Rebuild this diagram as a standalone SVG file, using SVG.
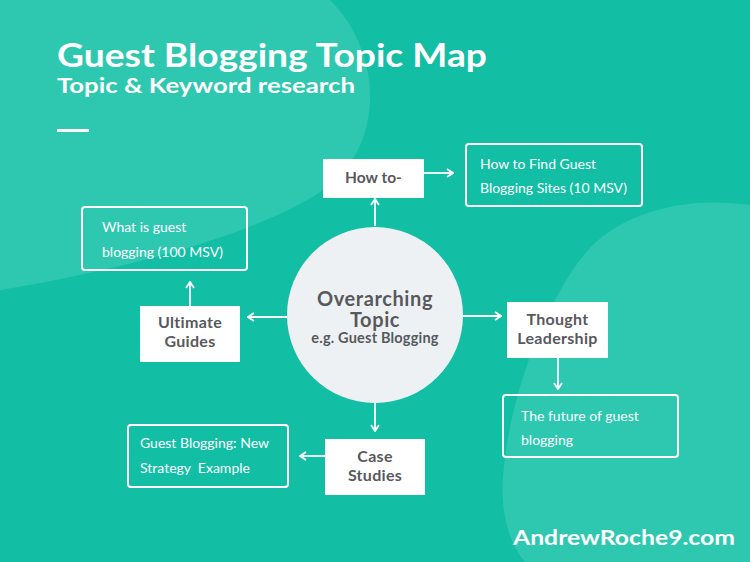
<svg xmlns="http://www.w3.org/2000/svg" width="750" height="562" viewBox="0 0 750 562">
<defs>
<style>
.bold{font-family:Lato,"Open Sans","Liberation Sans",sans-serif;font-weight:700;fill:#ffffff;}
.lbl{font-family:Lato,"Open Sans","Liberation Sans",sans-serif;font-weight:700;fill:#57595c;text-anchor:middle;}
.s16{font-size:16px;letter-spacing:0.3px;}
.s15{font-size:15.5px;}
.s20{font-size:20px;letter-spacing:0.6px;}
.s14{font-size:14.5px;letter-spacing:0.2px;}
.txt{font-family:Lato,"Open Sans","Liberation Sans",sans-serif;font-weight:400;font-size:14px;fill:#ffffff;}
.solid{fill:#ffffff;}
.outline{fill:none;stroke:#ffffff;stroke-width:2;}
.conn{stroke:#ffffff;stroke-width:1.8;fill:none;marker-end:url(#arr);}
</style>
<marker id="arr" viewBox="0 0 10 10" refX="9" refY="5" markerWidth="10" markerHeight="10" markerUnits="userSpaceOnUse" orient="auto">
<polyline points="3,1 9,5 3,9" fill="none" stroke="#ffffff" stroke-width="1.8"/>
</marker>
</defs>
<rect width="750" height="562" fill="#12bea4"/>
<path d="M0 0 H330 C385 55 385 150 320 192 C250 238 110 272 0 290 Z" fill="#2ec8b1"/>
<path d="M750 205 C680 195 620 215 588 250 C545 300 508 400 503 478 C500 520 513 548 525 562 H750 Z" fill="#2ec8b1"/>

<text class="bold" x="57" y="67" font-size="32" textLength="430" lengthAdjust="spacingAndGlyphs">Guest Blogging Topic Map</text>
<text class="bold" x="57" y="93" font-size="21" textLength="298" lengthAdjust="spacingAndGlyphs">Topic &amp; Keyword research</text>
<rect x="57" y="129" width="32" height="3" fill="#ffffff"/>

<g id="connectors">
<line class="conn" x1="375" y1="226" x2="375" y2="199"/>
<line class="conn" x1="424" y1="173" x2="453" y2="173"/>
<line class="conn" x1="463" y1="316" x2="501" y2="316"/>
<line class="conn" x1="558" y1="358" x2="558" y2="389"/>
<line class="conn" x1="287" y1="317" x2="248" y2="317"/>
<line class="conn" x1="190" y1="306" x2="190" y2="282"/>
<line class="conn" x1="375" y1="403" x2="375" y2="431"/>
<line class="conn" x1="325" y1="456" x2="300" y2="456"/>
</g>

<g id="center">
<circle cx="375" cy="315" r="88" fill="#eef1f3"/>
<text class="lbl s20" x="375" y="306">Overarching</text>
<text class="lbl s20" x="375" y="327">Topic</text>
<text class="lbl s14" x="375" y="343">e.g. Guest Blogging</text>
</g>

<g id="howto">
<rect class="solid" x="323" y="159" width="101" height="39"/>
<text class="lbl s15" x="373.5" y="183">How to-</text>
</g>

<g id="howto-find">
<rect class="outline" x="466" y="144" width="176" height="62" rx="3"/>
<text class="txt" x="480" y="169">How to Find Guest</text>
<text class="txt" x="480" y="193">Blogging Sites (10 MSV)</text>
</g>

<g id="thought">
<rect class="solid" x="507" y="302" width="101" height="56"/>
<text class="lbl s16" x="557.5" y="325">Thought</text>
<text class="lbl s16" x="557.5" y="344">Leadership</text>
</g>

<g id="future">
<rect class="outline" x="503" y="395" width="175" height="62" rx="3"/>
<text class="txt" x="521" y="421">The future of guest</text>
<text class="txt" x="521" y="445">blogging</text>
</g>

<g id="ultimate">
<rect class="solid" x="140" y="306" width="100" height="56"/>
<text class="lbl s16" x="190" y="328">Ultimate</text>
<text class="lbl s16" x="190" y="347">Guides</text>
</g>

<g id="whatis">
<rect class="outline" x="82" y="207" width="165" height="63" rx="3"/>
<text class="txt" x="102" y="232">What is guest</text>
<text class="txt" x="102" y="257">blogging (100 MSV)</text>
</g>

<g id="case">
<rect class="solid" x="325" y="439" width="100" height="56"/>
<text class="lbl s16" x="375" y="462">Case</text>
<text class="lbl s16" x="375" y="481">Studies</text>
</g>

<g id="newstrategy">
<rect class="outline" x="128" y="425" width="160" height="62" rx="3"/>
<text class="txt" x="140" y="448">Guest Blogging: New</text>
<text class="txt" x="140" y="473" xml:space="preserve">Strategy  Example</text>
</g>

<text class="bold" x="513" y="545" font-size="21" textLength="222" lengthAdjust="spacingAndGlyphs">AndrewRoche9.com</text>
</svg>
